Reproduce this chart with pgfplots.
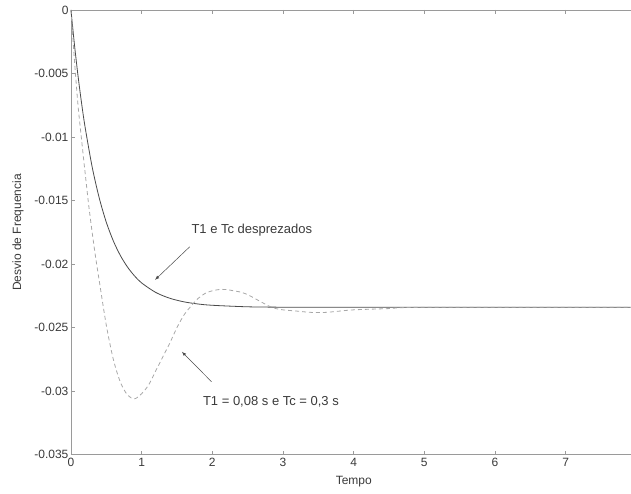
\documentclass[border=0pt]{standalone}
\usepackage{fontspec}
\setmainfont{Liberation Sans}
\usepackage{pgfplots}
\pgfplotsset{compat=1.18}
\definecolor{axgray}{HTML}{9A9A9A}
\definecolor{txtgray}{HTML}{3A3A3A}
\definecolor{solidgray}{HTML}{4A4A4A}
\definecolor{dashgray}{HTML}{A8A8A8}
\begin{document}
\begin{tikzpicture}
\begin{axis}[
  scale only axis, width=560pt, height=445pt,
  xmin=0, xmax=7.92, ymin=-0.035, ymax=0,
  axis x line=box, axis y line*=left, axis line style={-, draw=axgray, line width=0.8pt},
  xtick={0,1,...,7}, xticklabels={0,1,2,3,4,5,6,7},
  ytick={-0.035,-0.03,-0.025,-0.02,-0.015,-0.01,-0.005,0},
  yticklabels={-0.035,-0.03,-0.025,-0.02,-0.015,-0.01,-0.005,0},
  scaled y ticks=false,
  tick style={draw=axgray, line width=0.6pt}, tick align=inside,
  major tick length=4pt,
  ticklabel style={font=\fontsize{12}{14}\selectfont, text=txtgray},
  yticklabel style={xshift=1pt},
  xlabel={Tempo}, ylabel={Desvio de Frequencia},
  label style={font=\fontsize{12}{14}\selectfont, text=txtgray},
  xlabel style={at={(axis description cs:0.5,0)}, anchor=center, yshift=-27pt, xshift=3pt},
  ylabel style={at={(axis description cs:0,0.5)}, anchor=center, yshift=53pt},
  clip=false,
]
\addplot[solidgray, line width=0.8pt, smooth] coordinates {
(0,0) (0.05,-0.00275) (0.1,-0.00518) (0.15,-0.00732) (0.2,-0.00921)
(0.3,-0.01235) (0.4,-0.01479) (0.5,-0.01670) (0.6,-0.01818) (0.7,-0.01933)
(0.8,-0.02023) (0.9,-0.02093) (1.0,-0.02148) (1.2,-0.02223) (1.4,-0.02269)
(1.6,-0.02297) (1.8,-0.02314) (2.0,-0.02324) (2.5,-0.02336) (3.0,-0.02339)
(4.0,-0.0234) (7.92,-0.0234)};
\addplot[dashgray, line width=0.8pt, dash pattern=on 4pt off 3pt, smooth] coordinates {
(0,0) (0.05,-0.0040) (0.1,-0.0075) (0.15,-0.0102) (0.2,-0.0128) (0.25,-0.0153)
(0.3,-0.0175) (0.35,-0.0195) (0.4,-0.0213) (0.5,-0.0248) (0.6,-0.0275)
(0.7,-0.0293) (0.8,-0.0303) (0.9,-0.0306) (1.0,-0.0302) (1.1,-0.0295)
(1.2,-0.0284) (1.3,-0.0273) (1.4,-0.0262) (1.5,-0.0250) (1.6,-0.0240)
(1.7,-0.0233) (1.8,-0.0227) (1.9,-0.0223) (2.0,-0.0221) (2.1,-0.0220)
(2.2,-0.0220) (2.3,-0.0221) (2.4,-0.0222) (2.5,-0.0224) (2.6,-0.0227)
(2.7,-0.0230) (2.8,-0.0233) (2.9,-0.0235) (3.0,-0.0236) (3.2,-0.0237)
(3.4,-0.0238) (3.6,-0.0238) (3.8,-0.0237) (4.0,-0.0236) (4.5,-0.0235)
(5.0,-0.0234) (7.92,-0.0234)};
\draw[-latex, solidgray, line width=0.5pt] (axis cs:1.68,-0.01864) -- (axis cs:1.19,-0.02124);
\draw[-latex, solidgray, line width=0.5pt] (axis cs:1.99,-0.02926) -- (axis cs:1.57,-0.0269);
\node[font=\fontsize{13}{15}\selectfont, text=txtgray] at (axis cs:2.56,-0.0173) {T1 e Tc desprezados};
\node[font=\fontsize{13}{15}\selectfont, text=txtgray] at (axis cs:2.83,-0.03083) {T1 = 0,08 s e Tc = 0,3 s};
\path (rel axis cs:0,0) ++(-71pt,-39pt);
\path (rel axis cs:1,1) ++(0pt,10pt);
\end{axis}
\end{tikzpicture}
\end{document}
